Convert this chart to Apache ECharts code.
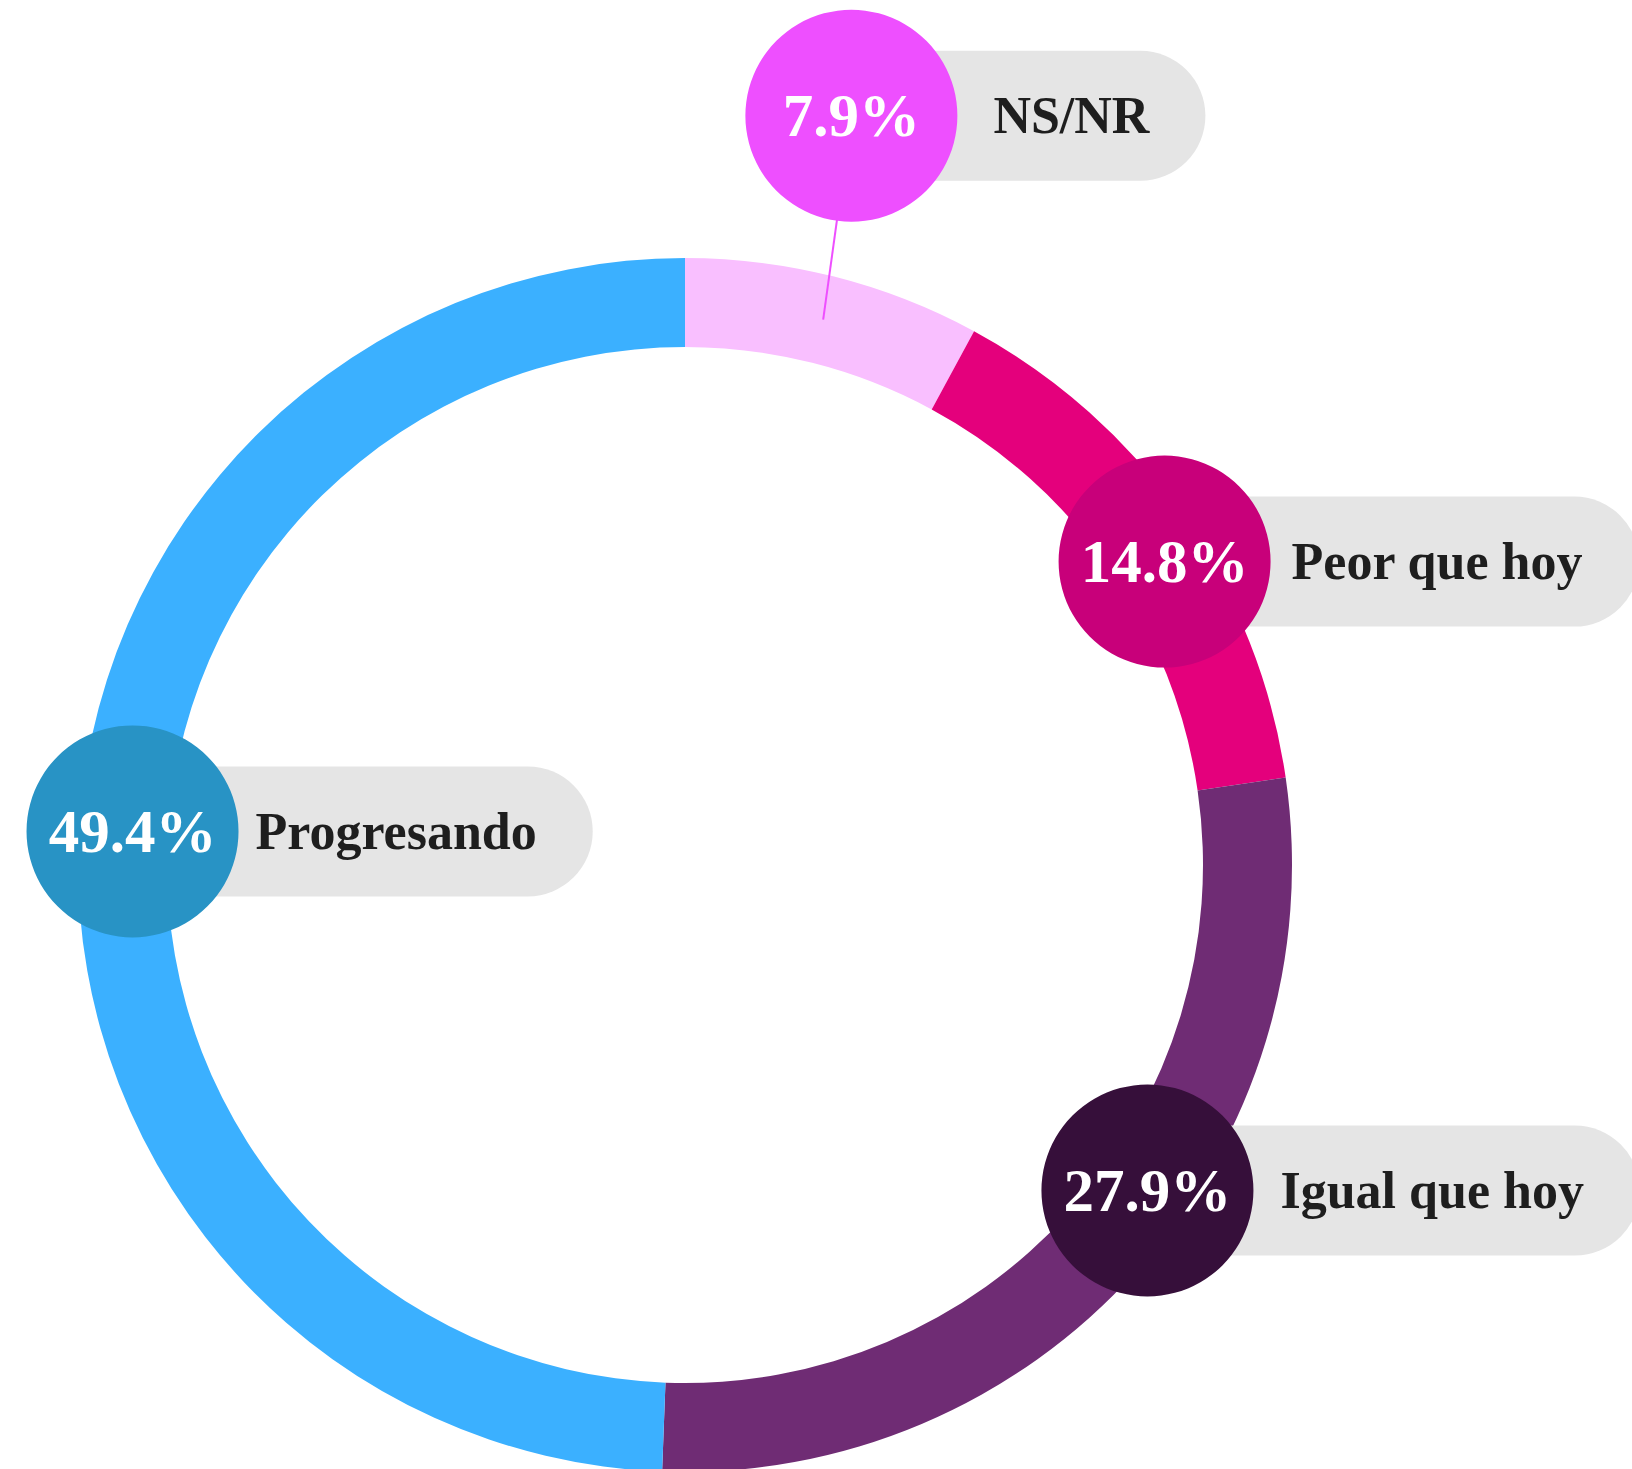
<!DOCTYPE html>
<html>
<head>
<meta charset="utf-8">
<script src="https://cdn.jsdelivr.net/npm/echarts@6/dist/echarts.min.js"></script>
<style>
html,body{margin:0;padding:0;background:#ffffff;}
#chart{width:1632px;height:1469px;}
</style>
</head>
<body>
<div id="chart"></div>
<script>
// ---- data ----
const categories = ['NS/NR', 'Peor que hoy', 'Igual que hoy', 'Progresando'];
const values = [7.9, 14.8, 27.9, 49.4];

// ---- styles ----
const ringColors = ['#F9BFFF', '#E4007C', '#6F2C74', '#3BB0FF'];
const badgeColors = ['#EE4FFF', '#C8007A', '#360F3A', '#2893C5'];
// label placement nudges relative to each slice's mid-ring anchor: [angle deg, radius px]
const labelNudge = [[-1.7, 205], [2.6, 5], [-6.8, 3], [2.4, -9]];
// distance from badge centre to the start of the name text
const nameGap = [142, 127, 133, 123];

const CX = 685, CY = 865, R_IN = 518, R_OUT = 607;
const BADGE_R = 106;
const FONT = '"Liberation Serif", "Times New Roman", serif';

const total = values.reduce((a, b) => a + b, 0);

function toXY(deg, r) {
  const a = deg * Math.PI / 180;
  return [CX + r * Math.sin(a), CY - r * Math.cos(a)];
}

const chart = echarts.init(document.getElementById('chart'), null, { renderer: 'svg' });

chart.setOption({
  backgroundColor: '#ffffff',
  animation: false,
  series: [
    {
      type: 'pie',
      silent: true,
      center: [CX, CY],
      radius: [R_IN, R_OUT],
      startAngle: 90,
      clockwise: true,
      label: { show: false },
      labelLine: { show: false },
      emphasis: { disabled: true },
      itemStyle: { borderWidth: 0 },
      data: categories.map((c, i) => ({
        name: c,
        value: values[i],
        itemStyle: { color: ringColors[i] }
      }))
    },
    {
      type: 'custom',
      coordinateSystem: 'none',
      silent: true,
      z: 10,
      data: values,
      renderItem: function (params, api) {
        const i = params.dataIndex;
        let before = 0;
        for (let k = 0; k < i; k++) before += values[k];
        const midDeg = (before + api.value(0) / 2) / total * 360;
        const rMid = (R_IN + R_OUT) / 2;
        const anchor = toXY(midDeg, rMid);
        const pos = toXY(midDeg + labelNudge[i][0], rMid + labelNudge[i][1]);
        const pct = api.value(0).toFixed(1) + '%';
        return {
          type: 'group',
          children: [
            {
              type: 'line',
              shape: { x1: anchor[0], y1: anchor[1], x2: pos[0], y2: pos[1] },
              style: { stroke: badgeColors[i], lineWidth: 2 }
            },
            {
              type: 'text',
              x: pos[0],
              y: pos[1],
              style: {
                text: categories[i],
                fill: '#1E1E1E',
                fontFamily: FONT,
                fontWeight: 'bold',
                fontSize: 52,
                lineHeight: 60,
                align: 'left',
                verticalAlign: 'middle',
                backgroundColor: '#E5E5E5',
                borderRadius: 65,
                padding: [35, 56, 35, nameGap[i]]
              }
            },
            {
              type: 'circle',
              shape: { cx: pos[0], cy: pos[1], r: BADGE_R },
              style: { fill: badgeColors[i] }
            },
            {
              type: 'text',
              x: pos[0],
              y: pos[1],
              style: {
                text: pct,
                fill: '#ffffff',
                fontFamily: FONT,
                fontWeight: 'bold',
                fontSize: 61,
                align: 'center',
                verticalAlign: 'middle'
              }
            }
          ]
        };
      }
    }
  ]
});
</script>
</body>
</html>
